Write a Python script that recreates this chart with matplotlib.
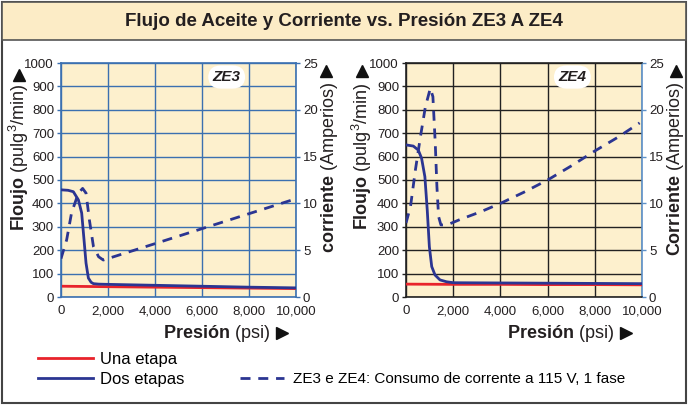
import numpy as np
import matplotlib
matplotlib.use("Agg")
import matplotlib.pyplot as plt
from matplotlib.patches import Rectangle

plt.rcParams['font.family'] = ['Liberation Sans', 'DejaVu Sans']
plt.rcParams['mathtext.fontset'] = 'custom'
plt.rcParams['mathtext.rm'] = 'Liberation Sans'
plt.rcParams['mathtext.bf'] = 'Liberation Sans:bold'

# ---- datos ----
# ZE3
ze3_una_p = [100, 2000, 4000, 6000, 8000, 10000]
ze3_una_q = [46, 44, 42, 40, 38, 36]
ze3_dos_p = [0, 300, 525, 740, 880, 980, 1065, 1165, 1280, 1380, 1600, 2000, 4000, 6000, 8000, 10000]
ze3_dos_q = [458, 456, 450, 415, 359, 244, 145, 81, 63, 57, 55, 54, 50, 46, 42, 39]
ze3_amp_p = [0, 240, 450, 740, 920, 1065, 1210, 1380, 1600, 1800, 4000, 6000, 8000, 10000]
ze3_amp_i = [4.1, 6.1, 9.0, 11.1, 11.6, 11.1, 8.2, 5.4, 4.3, 3.95, 5.7, 7.3, 8.9, 10.5]
# ZE4
ze4_una_p = [0, 2000, 4000, 6000, 8000, 10000]
ze4_una_q = [55, 54, 54, 53, 53, 52]
ze4_dos_p = [0, 310, 520, 660, 800, 900, 990, 1090, 1230, 1440, 1720, 2010, 4000, 6000, 8000, 10000]
ze4_dos_q = [650, 645, 628, 593, 514, 372, 215, 130, 94, 73, 65, 61, 60, 59, 58, 57]
ze4_amp_p = [0, 190, 400, 610, 820, 1030, 1140, 1240, 1310, 1380, 1480, 1740, 2310, 3160, 4000, 5000,
             6000, 7000, 8000, 9000, 9900]
ze4_amp_i = [7.9, 9.65, 13.6, 17.1, 20.3, 22.3, 21.4, 16.4, 11.8, 8.6, 7.7, 7.7, 8.3, 9.1, 10.0, 11.2,
             12.5, 14.0, 15.6, 17.1, 18.6]

x_ticks = [0, 2000, 4000, 6000, 8000, 10000]
x_labels = ['0', '2,000', '4,000', '6,000', '8,000', '10,000']
q_ticks = list(range(0, 1001, 100))
i_ticks = [0, 5, 10, 15, 20, 25]

RED = '#e8232b'
BLUE = '#2b3592'
BG = '#fdf0cd'
INK = '#231f20'
W, H = 688, 405

fig = plt.figure(figsize=(6.88, 4.05), dpi=100)

# marco y banda del titulo
fig.patches.append(Rectangle((0.003, 0.005), 0.994, 0.99, transform=fig.transFigure,
                             fill=False, ec='#444444', lw=1.5, zorder=0))
fig.patches.append(Rectangle((0.003, 1 - 40 / H), 0.994, 40 / H - 0.005, transform=fig.transFigure,
                             fc='#fcecc6', ec='#555555', lw=1.2, zorder=0))
fig.text(0.5, 1 - 22 / H, 'Flujo de Aceite y Corriente vs. Presión ZE3 A ZE4',
         ha='center', va='center', fontsize=13.5, fontweight='bold', color=INK)


def panel(left, width, una_p, una_q, dos_p, dos_q, amp_p, amp_i, tag, grid_c, spine_c, rspine_c):
    ax = fig.add_axes([left / W, 1 - 297 / H, width / W, 234 / H])
    ax.set_facecolor(BG)
    ax.set_xlim(0, 10000)
    ax.set_ylim(0, 1000)
    ax.set_xticks(x_ticks)
    ax.set_xticklabels(x_labels)
    ax.set_yticks(q_ticks)
    ax.grid(True, color=grid_c, lw=1.0)
    ax.set_axisbelow(True)
    for s in ax.spines.values():
        s.set_color(spine_c)
        s.set_linewidth(1.2)
    ax.spines['right'].set_color(rspine_c)
    ax.tick_params(axis='both', labelsize=9.5, length=3, width=1, color=spine_c, pad=2, labelcolor=INK)
    ax.tick_params(axis='x', length=0, pad=6)
    l1, = ax.plot(una_p, una_q, color=RED, lw=2, zorder=3, label='Una etapa')
    l2, = ax.plot(dos_p, dos_q, color=BLUE, lw=2, zorder=4, label='Dos etapas')
    ax2 = ax.twinx()
    ax2.set_ylim(0, 25)
    ax2.set_yticks(i_ticks)
    for s in ax2.spines.values():
        s.set_visible(False)
    ax2.tick_params(axis='y', labelsize=9.5, length=3, width=1, color=rspine_c, pad=2, labelcolor=INK)
    l3, = ax2.plot(amp_p, amp_i, color=BLUE, lw=2, dashes=(3.6, 2.8),
                   label='ZE3 e ZE4: Consumo de corrente a 115 V, 1 fase')
    ax2.text(7050, 23.5, tag, ha='center', va='center', fontsize=11, fontweight='bold',
             fontstyle='italic', color=INK,
             bbox=dict(boxstyle='round,pad=0.3,rounding_size=0.85', fc='white', ec='none'))
    return l1, l2, l3


l1, l2, l3 = panel(61, 235, ze3_una_p, ze3_una_q, ze3_dos_p, ze3_dos_q, ze3_amp_p, ze3_amp_i,
                   'ZE3', '#3b70b0', '#3b70b0', '#3b70b0')
panel(406, 236, ze4_una_p, ze4_una_q, ze4_dos_p, ze4_dos_q, ze4_amp_p, ze4_amp_i,
      'ZE4', '#222222', '#222222', '#5b8fc7')

# rotulos de ejes
fs_lab = 13
lab_q = r'$\mathbf{Floujo}$ (pulg$^3$/min)'
fig.text(19 / W, 1 - 83 / H, lab_q, rotation=90, ha='center', va='top', fontsize=fs_lab, color=INK)
fig.text(362 / W, 1 - 82 / H, lab_q, rotation=90, ha='center', va='top', fontsize=fs_lab, color=INK)
fig.text(330 / W, 1 - 82 / H, r'$\mathbf{corriente}$ (Amperios)', rotation=90, ha='center', va='top',
         fontsize=fs_lab, color=INK)
fig.text(676 / W, 1 - 82 / H, r'$\mathbf{Corriente}$ (Amperios)', rotation=90, ha='center', va='top',
         fontsize=fs_lab, color=INK)
for xl in (163, 507):
    fig.text(xl / W, 1 - 333 / H, r'$\mathbf{Presión}$ (psi)', ha='left', va='center',
             fontsize=13, color=INK)

# flechas
tri = fig.add_axes([0, 0, 1, 1], facecolor='none')
tri.set_xlim(0, W)
tri.set_ylim(H, 0)
tri.axis('off')
tri.plot([19, 326, 362, 676], [75, 71, 71, 71], ls='none', marker='^', ms=9, color='#111111')
tri.plot([282, 626], [333, 333], ls='none', marker='>', ms=9, color='#111111')

# leyenda
fig.legend(handles=[l1, l2], loc='upper left', bbox_to_anchor=(38 / W, 1 - 352 / H), frameon=False,
           fontsize=12, handlelength=3.3, handletextpad=0.45, labelspacing=0.3, borderpad=0,
           borderaxespad=0)
fig.legend(handles=[l3], loc='upper left', bbox_to_anchor=(240 / W, 1 - 372 / H), frameon=False,
           fontsize=11, handlelength=2.9, handletextpad=0.6, borderpad=0, borderaxespad=0)

fig.savefig('out.png', dpi=100)
